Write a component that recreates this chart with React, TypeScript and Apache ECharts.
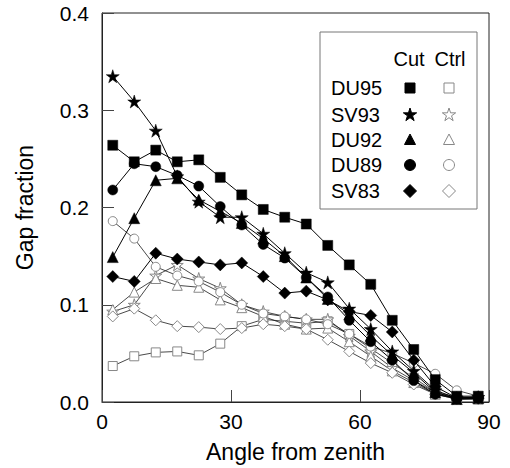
import React, { useEffect, useRef } from "react";
import * as echarts from "echarts";

const angles = [2.5, 7.5, 12.5, 17.5, 22.5, 27.5, 32.5, 37.5, 42.5, 47.5, 52.5, 57.5, 62.5, 67.5, 72.5, 77.5, 82.5, 87.5];

const du95Cut = [0.264, 0.247, 0.259, 0.247, 0.249, 0.231, 0.213, 0.198, 0.19, 0.183, 0.161, 0.141, 0.121, 0.084, 0.054, 0.023, 0.006, 0.006];
const sv93Cut = [0.335, 0.309, 0.279, 0.232, 0.206, 0.19, 0.19, 0.173, 0.153, 0.133, 0.123, 0.096, 0.075, 0.052, 0.032, 0.012, 0.004, 0.005];
const du92Cut = [0.149, 0.189, 0.228, 0.23, 0.208, 0.196, 0.184, 0.168, 0.15, 0.128, 0.106, 0.09, 0.068, 0.048, 0.03, 0.01, 0.003, 0.004];
const du89Cut = [0.218, 0.245, 0.242, 0.233, 0.222, 0.201, 0.182, 0.162, 0.148, 0.128, 0.108, 0.084, 0.062, 0.043, 0.022, 0.008, 0.004, 0.005];
const sv83Cut = [0.129, 0.124, 0.153, 0.147, 0.144, 0.141, 0.143, 0.129, 0.112, 0.114, 0.105, 0.093, 0.089, 0.072, 0.043, 0.016, 0.004, 0.004];

const du95Ctrl = [0.037, 0.047, 0.051, 0.052, 0.048, 0.06, 0.078, 0.085, 0.083, 0.081, 0.083, 0.07, 0.055, 0.04, 0.025, 0.01, 0.004, 0.004];
const sv93Ctrl = [0.093, 0.1, 0.13, 0.141, 0.127, 0.117, 0.1, 0.093, 0.088, 0.085, 0.085, 0.068, 0.052, 0.035, 0.022, 0.01, 0.005, 0.005];
const du92Ctrl = [0.095, 0.113, 0.127, 0.12, 0.118, 0.105, 0.097, 0.088, 0.08, 0.075, 0.076, 0.062, 0.047, 0.032, 0.02, 0.008, 0.003, 0.003];
const du89Ctrl = [0.186, 0.168, 0.139, 0.13, 0.124, 0.113, 0.1, 0.091, 0.088, 0.085, 0.08, 0.07, 0.057, 0.05, 0.04, 0.029, 0.012, 0.006];
const sv83Ctrl = [0.088, 0.096, 0.084, 0.078, 0.077, 0.075, 0.076, 0.08, 0.078, 0.075, 0.064, 0.052, 0.04, 0.03, 0.018, 0.008, 0.003, 0.003];

const siteNames = ["DU95", "SV93", "DU92", "DU89", "SV83"];
const cutData = [du95Cut, sv93Cut, du92Cut, du89Cut, sv83Cut];
const ctrlData = [du95Ctrl, sv93Ctrl, du92Ctrl, du89Ctrl, sv83Ctrl];
const xTicks = [0, 30, 60, 90];

const STAR = "path://M0,-10L2.245,-3.09L9.511,-3.09L3.633,1.18L5.878,8.09L0,3.82L-5.878,8.09L-3.633,1.18L-9.511,-3.09L-2.245,-3.09Z";
const symbols = ["rect", STAR, "triangle", "circle", "diamond"];
const symbolSizes = [10, 13, 11, 10, 12];

const FONT = "'Liberation Sans', Arial, Helvetica, sans-serif";

function starPoints(cx: number, cy: number, R: number) {
  const pts: number[][] = [];
  const r = R * 0.382;
  for (let i = 0; i < 10; i++) {
    const rad = i % 2 === 0 ? R : r;
    const a = -Math.PI / 2 + (i * Math.PI) / 5;
    pts.push([cx + rad * Math.cos(a), cy + rad * Math.sin(a)]);
  }
  return pts;
}

function legendSymbol(kind: number, cx: number, cy: number, filled: boolean) {
  const style = filled
    ? { fill: "#000", stroke: "#000", lineWidth: 1 }
    : { fill: "#fff", stroke: "#888", lineWidth: 1 };
  if (kind === 0) return { type: "rect", shape: { x: cx - 5, y: cy - 5, width: 10, height: 10 }, style };
  if (kind === 1) return { type: "polygon", shape: { points: starPoints(cx, cy, 7) }, style };
  if (kind === 2) return { type: "polygon", shape: { points: [[cx, cy - 6], [cx + 5.5, cy + 4.5], [cx - 5.5, cy + 4.5]] }, style };
  if (kind === 3) return { type: "circle", shape: { cx, cy, r: 5.5 }, style };
  return { type: "polygon", shape: { points: [[cx, cy - 6.5], [cx + 6.5, cy], [cx, cy + 6.5], [cx - 6.5, cy]] }, style };
}

export default function App() {
  const ref = useRef<HTMLDivElement>(null);
  useEffect(() => {
    document.body.style.margin = "0";
    if (!ref.current) return;
    const chart = echarts.init(ref.current, null, { renderer: "svg" });

    const series: any[] = [];
    ctrlData.forEach((d, i) => {
      series.push({
        name: siteNames[i] + " Ctrl",
        type: "line",
        data: angles.map((a, j) => [a, d[j]]),
        symbol: symbols[i],
        symbolSize: symbolSizes[i] - 1,
        showAllSymbol: true,
        lineStyle: { color: "#1a1a1a", width: 0.8 },
        itemStyle: { color: "#fff", borderColor: "#888", borderWidth: 1 },
        z: 2,
      });
    });
    cutData.forEach((d, i) => {
      series.push({
        name: siteNames[i] + " Cut",
        type: "line",
        data: angles.map((a, j) => [a, d[j]]),
        symbol: symbols[i],
        symbolSize: symbolSizes[i],
        showAllSymbol: true,
        lineStyle: { color: "#000", width: 1 },
        itemStyle: { color: "#000", borderColor: "#000", borderWidth: 0.5 },
        z: 3,
      });
    });

    const legendX = 320;
    const legendY = 32;
    const rowsY = [88, 115, 140, 165, 191];
    const graphics: any[] = [
      { type: "rect", shape: { x: legendX, y: legendY, width: 157, height: 177 }, style: { fill: "#fff", stroke: "#777", lineWidth: 1 }, z: 10 },
      { type: "text", x: 409, y: 59, style: { text: "Cut", fontSize: 20, fontFamily: FONT, fill: "#000", textAlign: "center", textVerticalAlign: "middle" }, z: 11 },
      { type: "text", x: 450, y: 59, style: { text: "Ctrl", fontSize: 20, fontFamily: FONT, fill: "#000", textAlign: "center", textVerticalAlign: "middle" }, z: 11 },
    ];
    siteNames.forEach((n, i) => {
      graphics.push({ type: "text", x: 331, y: rowsY[i], style: { text: n, fontSize: 20, fontFamily: FONT, fill: "#000", textAlign: "left", textVerticalAlign: "middle" }, z: 11 });
      graphics.push({ ...legendSymbol(i, 410, rowsY[i], true), z: 11 });
      graphics.push({ ...legendSymbol(i, 449, rowsY[i], false), z: 11 });
    });

    chart.setOption({
      animation: false,
      backgroundColor: "#fff",
      grid: { left: 102, right: 21, top: 13, bottom: 66, show: true, borderColor: "#222", borderWidth: 1, backgroundColor: "transparent" },
      xAxis: {
        type: "value",
        min: 0,
        max: 90,
        interval: 30,
        name: "Angle from zenith",
        nameLocation: "middle",
        nameGap: 38,
        nameTextStyle: { fontSize: 23, fontFamily: FONT, color: "#000" },
        axisLine: { show: true, lineStyle: { color: "#222", width: 1 } },
        axisTick: { show: true, inside: true, length: 12, lineStyle: { color: "#444" } },
        axisLabel: { fontSize: 21, fontFamily: FONT, color: "#000", margin: 9, formatter: (v: number) => (xTicks.includes(v) ? String(v) : "") },
        splitLine: { show: false },
      },
      yAxis: {
        type: "value",
        min: 0,
        max: 0.4,
        interval: 0.1,
        name: "Gap fraction",
        nameLocation: "middle",
        nameGap: 66,
        nameRotate: 90,
        nameTextStyle: { fontSize: 23, fontFamily: FONT, color: "#000" },
        axisLine: { show: true, lineStyle: { color: "#222", width: 1 } },
        axisTick: { show: true, inside: true, length: 12, lineStyle: { color: "#444" } },
        axisLabel: { fontSize: 21, fontFamily: FONT, color: "#000", margin: 13, formatter: (v: number) => v.toFixed(1) },
        splitLine: { show: false },
      },
      series,
      graphic: graphics,
    });
    return () => chart.dispose();
  }, []);
  return <div ref={ref} style={{ width: 510, height: 468 }} />;
}
